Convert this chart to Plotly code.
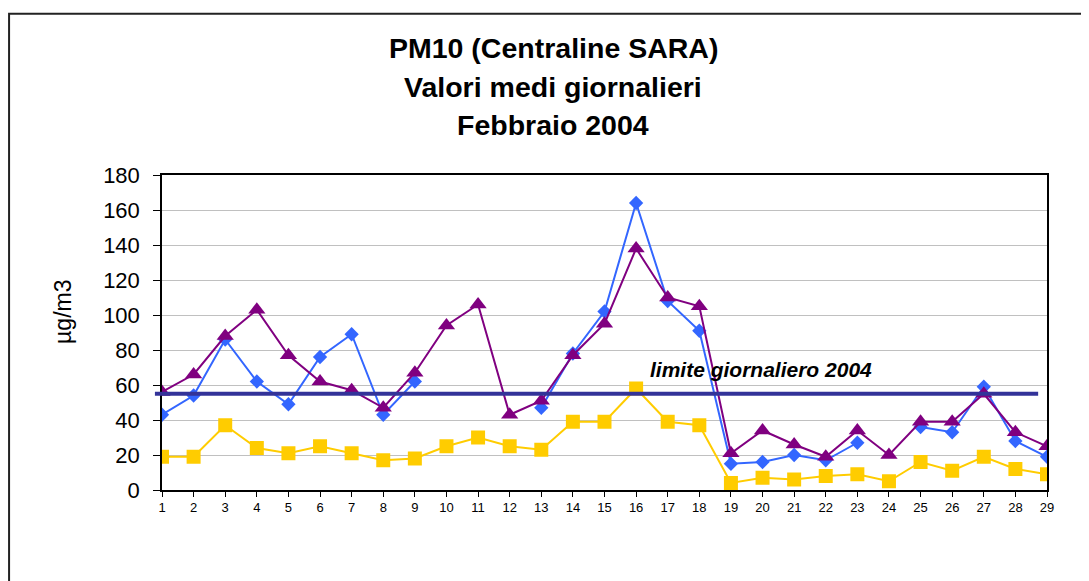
import plotly.graph_objects as go

days = list(range(1, 30))
blue_vals = [43, 54, 86, 62, 49, 76, 89, 43, 62, None, None, None, 47, 78, 102, 164, 108, 91, 15,
             16, 20, 17, 27, None, 36, 33, 59, 28, 19]
purple_vals = [56, 66, 88, 103, 77, 62, 57, 47, 67, 94, 106, 43, 51, 77, 95, 138, 110, 105, 21,
               34, 26, 19, 34, 20, 39, 39, 55, 33, 25]
yellow_vals = [19, 19, 37, 24, 21, 25, 21, 17, 18, 25, 30, 25, 23, 39, 39, 58, 39, 37, 4,
               7, 6, 8, 9, 5, 16, 11, 19, 12, 9]
limit_value = 55
limit_label = "limite giornaliero 2004"
title_lines = ["PM10 (Centraline SARA)", "Valori medi giornalieri", "Febbraio 2004"]
y_ticks = list(range(0, 181, 20))

FONT = "Liberation Sans, Arial, sans-serif"

fig = go.Figure()
fig.add_trace(go.Scatter(
    x=days, y=blue_vals, mode="lines+markers",
    line=dict(color="#3366FF", width=2),
    marker=dict(symbol="diamond", size=11, color="#3366FF"),
    connectgaps=False, showlegend=False, hoverinfo="x+y"))
fig.add_trace(go.Scatter(
    x=days, y=purple_vals, mode="lines+markers",
    line=dict(color="#800080", width=2),
    marker=dict(symbol="triangle-up", size=15, color="#800080"),
    showlegend=False, hoverinfo="x+y"))
fig.add_trace(go.Scatter(
    x=days, y=yellow_vals, mode="lines+markers",
    line=dict(color="#FFCC00", width=2),
    marker=dict(symbol="square", size=14, color="#FFCC00"),
    showlegend=False, hoverinfo="x+y"))

# limit line
fig.add_shape(type="line", xref="paper", yref="y",
              x0=-0.008, x1=0.99, y0=limit_value, y1=limit_value,
              line=dict(color="#333399", width=4), layer="above")

annotations = []
title_y = [1.403, 1.279, 1.159]
for txt, yy in zip(title_lines, title_y):
    annotations.append(dict(text="<b>" + txt + "</b>", xref="paper", yref="paper",
                            x=0.442, y=yy, xanchor="center", yanchor="middle",
                            showarrow=False, font=dict(family=FONT, size=28.5, color="black")))
annotations.append(dict(text="<b><i>" + limit_label + "</i></b>", xref="x", yref="y",
                        x=19.95, y=69, xanchor="center", yanchor="middle",
                        showarrow=False, font=dict(family=FONT, size=21, color="black")))
annotations.append(dict(text="µg/m3", xref="paper", yref="paper",
                        x=-0.112, y=0.565, xanchor="center", yanchor="middle",
                        textangle=-90, showarrow=False,
                        font=dict(family=FONT, size=23, color="black")))

# outer chart border
fig.add_shape(type="rect", xref="paper", yref="paper",
              x0=-0.1728, x1=1.07, y0=-0.35, y1=1.512,
              line=dict(color="#222222", width=2), layer="below")

fig.update_layout(
    width=1089, height=581,
    margin=dict(l=154, r=50, t=167, b=99),
    paper_bgcolor="white", plot_bgcolor="white",
    annotations=annotations,
    font=dict(family=FONT, color="black"),
)
fig.update_xaxes(
    range=[1, 29], tickmode="array", tickvals=days, ticktext=[str(d) for d in days],
    showgrid=False, zeroline=False,
    showline=True, linecolor="black", linewidth=1.5, mirror=True,
    ticks="outside", ticklen=5, tickcolor="black", tickwidth=1,
    tickfont=dict(family=FONT, size=13, color="black"),
)
fig.update_yaxes(
    range=[0, 180], tickmode="array", tickvals=y_ticks,
    showgrid=True, gridcolor="#C0C0C0", gridwidth=1, zeroline=False,
    showline=True, linecolor="black", linewidth=1.5, mirror=True,
    ticks="outside", ticklen=7, tickcolor="black", tickwidth=1,
    tickfont=dict(family=FONT, size=22, color="black"),
    ticklabelstandoff=9,
)

fig.write_html("out.html")
